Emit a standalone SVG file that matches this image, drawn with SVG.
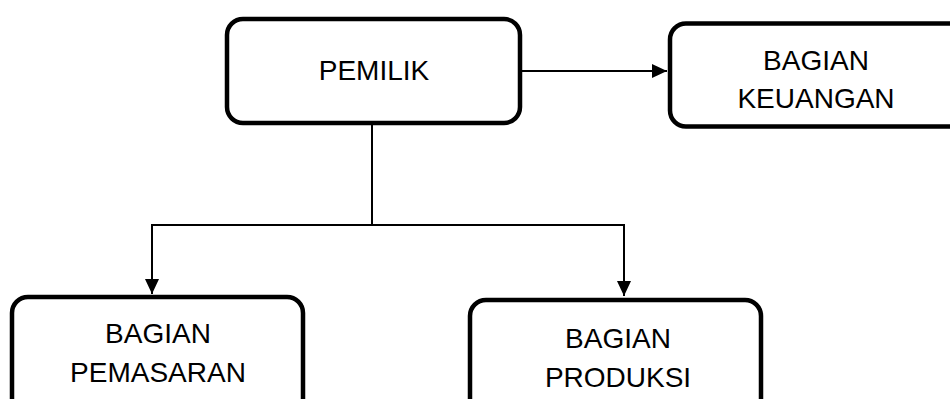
<svg xmlns="http://www.w3.org/2000/svg" width="950" height="399" viewBox="0 0 950 399">
<style>
.box{fill:#fff;stroke:#000;stroke-width:4.5}
.lbl{font-family:"Liberation Sans",Arial,sans-serif;font-size:28px;fill:#000;text-anchor:middle}
.con{fill:none;stroke:#000;stroke-width:2}
</style>
<defs>
<marker id="arr" markerWidth="15" markerHeight="14" refX="15" refY="7" orient="auto" markerUnits="userSpaceOnUse">
<path d="M0,0 L15,7 L0,14 Z" fill="#000"/>
</marker>
</defs>
<rect width="950" height="399" fill="#fff"/>
<g id="connectors">
<line class="con" x1="522" y1="71" x2="667" y2="71" marker-end="url(#arr)"/>
<polyline class="con" points="372,125 372,225"/>
<polyline class="con" points="372,225 152,225 152,294" marker-end="url(#arr)"/>
<polyline class="con" points="372,225 624,225 624,296" marker-end="url(#arr)"/>
</g>
<g id="pemilik">
<rect class="box" x="227" y="19" width="293" height="104" rx="16"/>
<text class="lbl" x="374" y="80">PEMILIK</text>
</g>
<g id="keuangan">
<rect class="box" x="670" y="23.5" width="300" height="103" rx="16"/>
<text class="lbl" x="816" y="70">BAGIAN</text>
<text class="lbl" x="816" y="108">KEUANGAN</text>
</g>
<g id="pemasaran">
<rect class="box" x="12" y="297" width="291" height="130" rx="16"/>
<text class="lbl" x="158" y="343">BAGIAN</text>
<text class="lbl" x="158" y="382">PEMASARAN</text>
</g>
<g id="produksi">
<rect class="box" x="470" y="300" width="291" height="130" rx="16"/>
<text class="lbl" x="618" y="348">BAGIAN</text>
<text class="lbl" x="618" y="387">PRODUKSI</text>
</g>
</svg>
